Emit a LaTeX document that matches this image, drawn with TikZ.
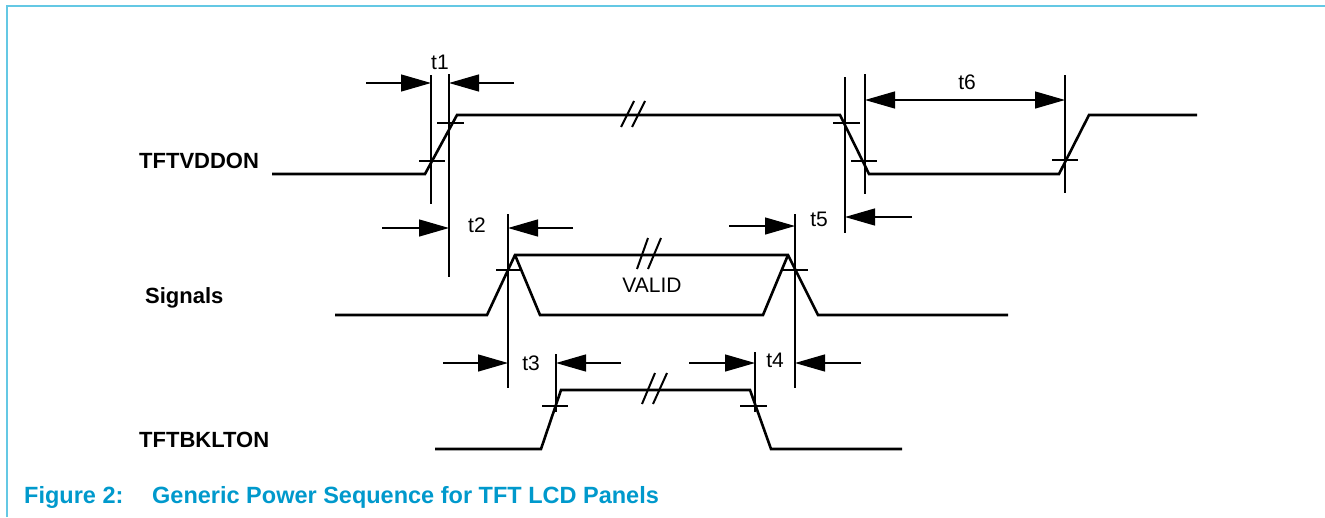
\documentclass[tikz,border=0pt]{standalone}
\usepackage{fontspec}
\setmainfont{Liberation Sans}
\usetikzlibrary{arrows.meta}
\definecolor{capblue}{RGB}{0,153,204}
\definecolor{frameblue}{RGB}{100,200,228}
\begin{document}
\begin{tikzpicture}[x=1pt,y=-1pt,
  wave/.style={line width=2.6pt},
  vline/.style={line width=2.4pt},
  tickm/.style={line width=2pt},
  brk/.style={line width=2pt},
  dim/.style={line width=1.3pt,-{Triangle[length=30pt,width=17pt]}},
  dimboth/.style={line width=1.3pt,{Triangle[length=30pt,width=17pt]}-{Triangle[length=30pt,width=17pt]}},
  sig/.style={font=\bfseries\fontsize{22}{26}\selectfont, anchor=base west, inner sep=0pt},
  tl/.style={font=\fontsize{21}{25}\selectfont, inner sep=0pt},
  captext/.style={font=\bfseries\fontsize{23.5}{28}\selectfont, text=capblue, anchor=base west, inner sep=0pt}]
\useasboundingbox (0,0) rectangle (1325,517);

% frame
\draw[frameblue, line width=2pt] (7,517) -- (7,6) -- (1325,6);

% signal names
\node[sig] (nvdd) at (139,168) {TFTVDDON};
\node[sig] (nsig) at (145,303) {Signals};
\node[sig] (nbkl) at (139,447) {TFTBKLTON};

% TFTVDDON waveform
\draw[wave] (272,174) -- (425,174) -- (457,115) -- (840,115) -- (869,174) -- (1059,174) -- (1089,115) -- (1197,115);
\draw[tickm] (419,161) -- (445,161);
\draw[tickm] (437,123) -- (464,123);
\draw[tickm] (833,123) -- (860,123);
\draw[tickm] (851,161) -- (877,161);
\draw[tickm] (1052,160) -- (1078,160);
\draw[brk] (621,127) -- (634,101);
\draw[brk] (632,127) -- (645,101);

% Signals waveform
\draw[wave] (335,315) -- (487,315) -- (515,255) -- (788,255) -- (818,315) -- (1008,315);
\draw[wave] (515,255) -- (540,315) -- (763,315) -- (788,255);
\draw[tickm] (496,270) -- (520,270);
\draw[tickm] (783,270) -- (808,270);
\draw[brk] (637,269) -- (648,238);
\draw[brk] (648,269) -- (661,238);
\node[tl] (valid) at (652,285) {VALID};

% TFTBKLTON waveform
\draw[wave] (435,449) -- (541,449) -- (561,390) -- (750,390) -- (771,449) -- (902,449);
\draw[tickm] (542,406) -- (568,406);
\draw[tickm] (740,406) -- (767,406);
\draw[brk] (642,404) -- (655,373);
\draw[brk] (653,404) -- (667,373);

% vertical reference lines
\coordinate (v1t) at (431,75);  \coordinate (v1b) at (431,204);
\coordinate (v2t) at (449,74);  \coordinate (v2b) at (449,277);
\coordinate (v3t) at (845,77);  \coordinate (v3b) at (845,233);
\coordinate (v4t) at (865,74);  \coordinate (v4b) at (865,194);
\coordinate (v5t) at (1065,75); \coordinate (v5b) at (1065,193);
\coordinate (v6t) at (508,214); \coordinate (v6b) at (508,388);
\coordinate (v7t) at (795,214); \coordinate (v7b) at (795,388);
\coordinate (v8t) at (556,354); \coordinate (v8b) at (556,412);
\coordinate (v9t) at (755,352); \coordinate (v9b) at (755,412);
\foreach \v in {v1,v2,v3,v4,v5,v6,v7,v8,v9}
  \draw[vline] (\v t) -- (\v b);

% t1
\coordinate (a1l) at (366,83); \coordinate (a1r) at (514,83);
\draw[dim] (a1l) -- (a1l -| v1t);
\draw[dim] (a1r) -- (a1r -| v2t);
\node[tl] (t1) at (440,62) {t1};
% t2
\coordinate (a2l) at (382,228); \coordinate (a2r) at (573,228);
\draw[dim] (a2l) -- (a2l -| v2t);
\draw[dim] (a2r) -- (a2r -| v6t);
\node[tl] (t2) at (477,225) {t2};
% t5
\coordinate (a5l) at (729,226); \coordinate (a5r) at (912,217);
\draw[dim] (a5l) -- (a5l -| v7t);
\draw[dim] (a5r) -- (a5r -| v3t);
\node[tl] (t5) at (819,219) {t5};
% t6
\coordinate (a6) at (960,100);
\draw[dimboth] (a6 -| v4t) -- (a6 -| v5t);
\node[tl] (t6) at (967,82) {t6};
% t3
\coordinate (a3l) at (443,363); \coordinate (a3r) at (621,363);
\draw[dim] (a3l) -- (a3l -| v6t);
\draw[dim] (a3r) -- (a3r -| v8t);
\node[tl] (t3) at (531,363) {t3};
% t4
\coordinate (a4l) at (689,363); \coordinate (a4r) at (861,363);
\draw[dim] (a4l) -- (a4l -| v9t);
\draw[dim] (a4r) -- (a4r -| v7t);
\node[tl] (t4) at (775,360) {t4};

% caption
\node[captext] (fig) at (24,503) {Figure 2:};
\node[captext] (captxt) at (152,503) {Generic Power Sequence for TFT LCD Panels};
\end{tikzpicture}
\end{document}
